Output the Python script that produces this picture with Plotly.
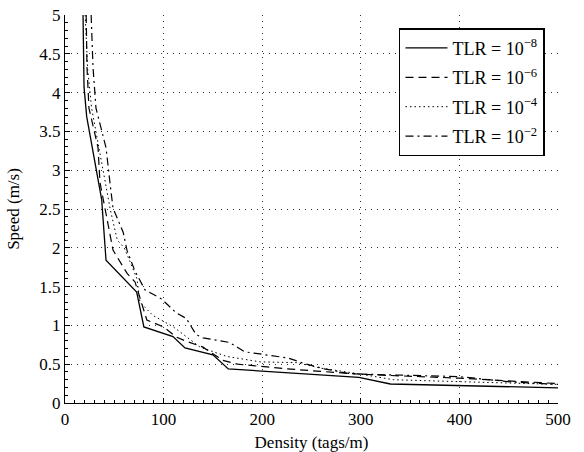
import plotly.graph_objects as go

# Density (tags/m) vs Speed (m/s) for four TLR values
names = ["TLR = 10<sup>−8</sup>", "TLR = 10<sup>−6</sup>", "TLR = 10<sup>−4</sup>", "TLR = 10<sup>−2</sup>"]

x_tlr8 = [18.3, 19.3, 22, 28.4, 37.2, 41.6, 72.7, 80, 109.5, 121.7, 150, 165.6, 298, 330, 500]
y_tlr8 = [5.0, 4.07, 3.69, 3.26, 2.62, 1.84, 1.43, 0.98, 0.855, 0.71, 0.62, 0.44, 0.33, 0.245, 0.195]

x_tlr6 = [21.5, 22.3, 24.3, 33.5, 35.5, 48.7, 63, 71, 83, 100, 113, 122, 140, 160, 175, 225, 300, 400, 500]
y_tlr6 = [5.0, 4.33, 3.8, 3.29, 2.84, 1.97, 1.67, 1.56, 1.07, 0.98, 0.85, 0.8, 0.72, 0.55, 0.5, 0.44, 0.37, 0.32, 0.25]

x_tlr4 = [20.5, 23, 27, 36, 42, 46, 53, 60, 66, 73, 76, 89, 110, 137, 164, 198, 235, 259, 296, 333, 400, 500]
y_tlr4 = [5.0, 4.3, 3.8, 3.2, 2.8, 2.49, 2.1, 2.0, 1.82, 1.6, 1.3, 1.13, 0.98, 0.72, 0.6, 0.53, 0.52, 0.45, 0.38, 0.30, 0.275, 0.24]

x_tlr2 = [26.5, 28.4, 31.4, 41.6, 45.6, 48.7, 59, 63, 71, 81, 98, 113, 123, 133, 140, 167, 182, 205, 226, 245, 263, 288, 306, 400, 454, 500]
y_tlr2 = [5.0, 4.33, 3.8, 3.29, 2.84, 2.51, 2.2, 1.96, 1.7, 1.46, 1.34, 1.16, 1.09, 0.88, 0.84, 0.78, 0.66, 0.62, 0.58, 0.50, 0.44, 0.38, 0.37, 0.34, 0.27, 0.24]

x_ticks = [0, 100, 200, 300, 400, 500]
y_ticks = [0, 0.5, 1, 1.5, 2, 2.5, 3, 3.5, 4, 4.5, 5]
y_ticktext = ["0", "0.5", "1", "1.5", "2", "2.5", "3", "3.5", "4", "4.5", "5"]

FONT = "Liberation Serif, DejaVu Serif, serif"

fig = go.Figure()
series = [(x_tlr8, y_tlr8, "solid", 1.3),
          (x_tlr6, y_tlr6, "8px,5px", 1.2),
          (x_tlr4, y_tlr4, "1.5px,3px", 1.0),
          (x_tlr2, y_tlr2, "8px,4px,2px,4px", 1.2)]
for i, ((xs, ys, dash, w), nm) in enumerate(zip(series, names)):
    fig.add_trace(go.Scatter(x=xs, y=ys, mode="lines", name=nm, legendgroup=f"g{i}",
                             line=dict(color="black", width=w, dash=dash)))

axis_common = dict(
    showline=True, linecolor="black", linewidth=1.2,
    showgrid=True, gridcolor="rgba(0,0,0,0.8)", gridwidth=1, griddash="1px,5px",
    ticks="inside", ticklen=5, tickcolor="black", tickwidth=1,
    zeroline=False, mirror=False, automargin=False,
    tickfont=dict(family=FONT, size=17, color="black"),
)

fig.update_layout(
    width=584, height=452,
    margin=dict(l=65, r=26, t=15, b=49),
    paper_bgcolor="white", plot_bgcolor="white",
    font=dict(family=FONT, size=17, color="black"),
    xaxis=dict(range=[0, 500], tickvals=x_ticks,
               minor=dict(dtick=10, ticks="inside", ticklen=3, tickcolor="black", showgrid=False),
               title=dict(text="Density (tags/m)", font=dict(family=FONT, size=17)),
               **axis_common),
    yaxis=dict(range=[0, 5], tickvals=y_ticks, ticktext=y_ticktext,
               minor=dict(dtick=0.1, ticks="inside", ticklen=3, tickcolor="black", showgrid=False),
               title=dict(text="Speed (m/s)", font=dict(family=FONT, size=17)),
               **axis_common),
    legend=dict(x=0.9736, y=0.966, xanchor="right", yanchor="top",
                bgcolor="white", bordercolor="black", borderwidth=1.5,
                font=dict(family=FONT, size=18, color="black"),
                tracegroupgap=3, itemwidth=42),
    showlegend=True,
)

fig.write_html("out.html")
